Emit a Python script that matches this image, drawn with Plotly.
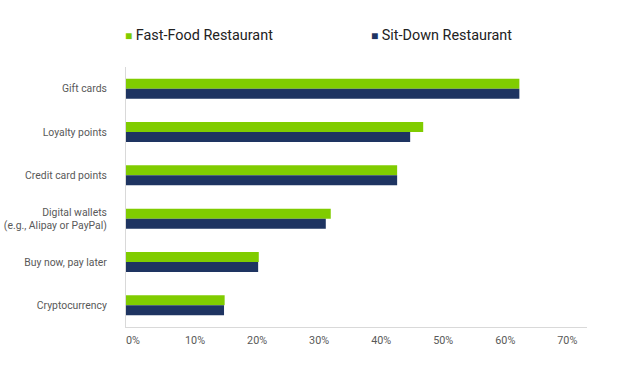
import plotly.graph_objects as go

categories = ["Gift cards", "Loyalty points", "Credit card points",
              "Digital wallets<br>(e.g., Alipay or PayPal)", "Buy now, pay later", "Cryptocurrency"]
fast_food = [63.4, 47.9, 43.7, 33.0, 21.4, 15.9]
sit_down = [63.4, 45.8, 43.7, 32.2, 21.3, 15.8]
tick_vals = [0, 10, 20, 30, 40, 50, 60, 70]
tick_text = ["0%", "10%", "20%", "30%", "40%", "50%", "60%", "70%"]
series_names = ["Fast-Food Restaurant", "Sit-Down Restaurant"]

GREEN = "#80cc00"
NAVY = "#1e3461"
FONT = "Roboto, Arial, sans-serif"

fig = go.Figure()
fig.add_trace(go.Bar(y=categories, x=fast_food, orientation="h", name=series_names[0],
                     marker=dict(color=GREEN, line=dict(width=0)), showlegend=False))
fig.add_trace(go.Bar(y=categories, x=sit_down, orientation="h", name=series_names[1],
                     marker=dict(color=NAVY, line=dict(width=0)), showlegend=False))

# legend rendered as text with square swatches
for name, col, xpx in [(series_names[0], GREEN, 123), (series_names[1], NAVY, 369)]:
    fig.add_annotation(
        xref="paper", yref="paper",
        x=(xpx - 126) / 461, y=1 + (67 - 35) / 260,
        xanchor="left", yanchor="middle", showarrow=False,
        text=f'<span style="color:{col};font-size:12px">■</span> {name}',
        font=dict(family=FONT, size=14.4, color="#222222"),
    )

fig.update_layout(
    width=623, height=372,
    margin=dict(l=126, r=36, t=67, b=45, autoexpand=False),
    paper_bgcolor="white", plot_bgcolor="white",
    barmode="group", bargap=0.54, bargroupgap=0,
    showlegend=False,
    font=dict(family=FONT, size=10.4, color="#595959"),
    xaxis=dict(range=[0, 74.3], tickvals=tick_vals, ticktext=tick_text,
               showgrid=False, zeroline=False, showline=True, linecolor="#d9d9d9",
               linewidth=1, ticks="", ticklabelshift=7, ticklabelstandoff=3,
               tickfont=dict(family=FONT, size=10.8, color="#595959"), fixedrange=True),
    yaxis=dict(autorange="reversed", showgrid=False, zeroline=False, showline=True,
               linecolor="#d9d9d9", linewidth=1, ticks="", ticklabelstandoff=16,
               tickfont=dict(family=FONT, size=10.4, color="#595959"), fixedrange=True),
)

fig.write_html("out.html", config={"displayModeBar": False},
               post_script="document.body.style.margin='0';")
